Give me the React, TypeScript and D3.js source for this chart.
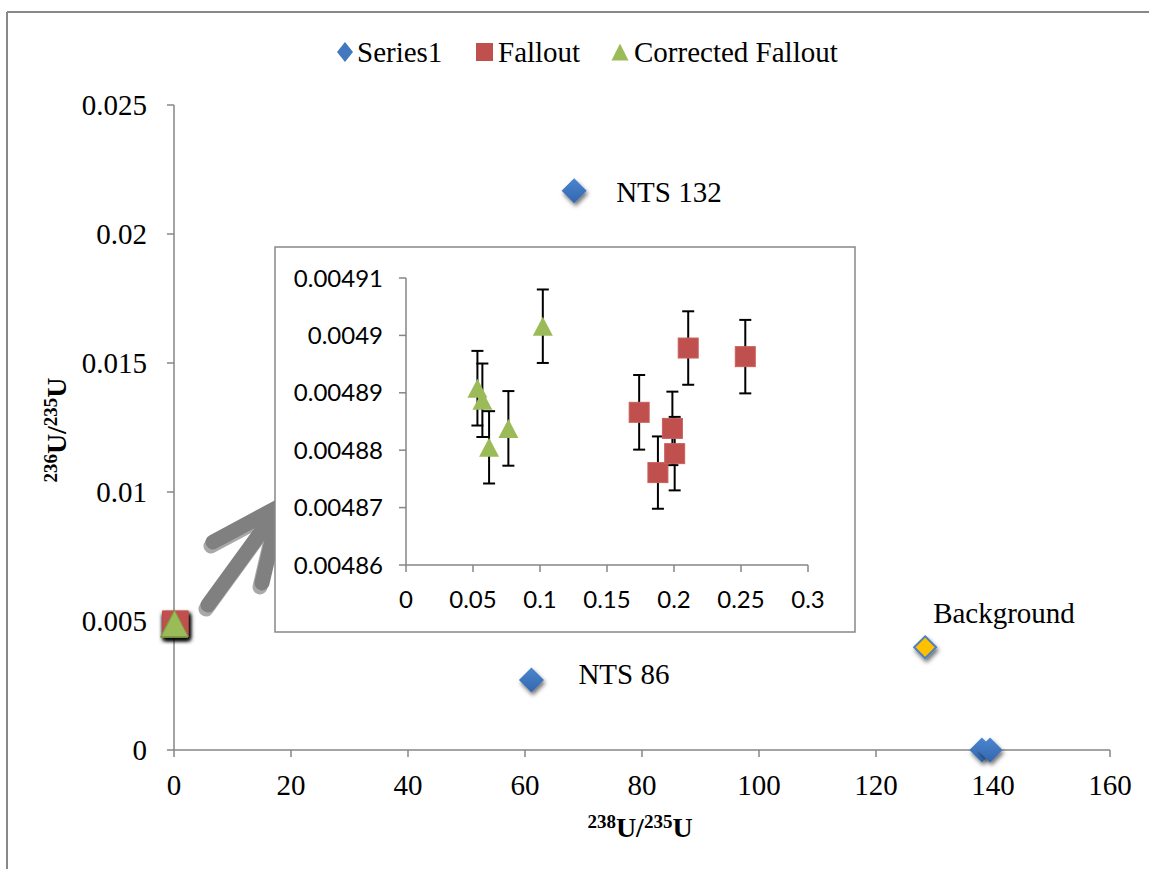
import * as d3 from 'd3';

// legend
const legendLabels = ['Series1', 'Fallout', 'Corrected Fallout'];

// main chart: Series1 (blue diamonds)
const series1X = [68.4, 61.1, 138.1, 139.5];
const series1Y = [0.02168, 0.00271, 0, 0];
const series1Labels = ['NTS 132', 'NTS 86', '', ''];

// background point (yellow diamond)
const backgroundX = [128.4];
const backgroundY = [0.00398];
const backgroundLabels = ['Background'];

// fallout (red squares)
const falloutX = [0.174, 0.188, 0.1988, 0.2005, 0.2106, 0.2532];
const falloutY = [0.0048866, 0.0048761, 0.0048838, 0.0048794, 0.0048978, 0.0048963];
const falloutErr = [0.0000065, 0.0000063, 0.0000064, 0.0000064, 0.0000064, 0.0000064];

// corrected fallout (green triangles)
const correctedX = [0.0533, 0.057, 0.062, 0.0764, 0.1021];
const correctedY = [0.0048908, 0.0048887, 0.0048805, 0.0048838, 0.0049016];
const correctedErr = [0.0000065, 0.0000064, 0.0000063, 0.0000065, 0.0000064];

// ticks
const mainXTicks = [0, 20, 40, 60, 80, 100, 120, 140, 160];
const mainYTicks = [0, 0.005, 0.01, 0.015, 0.02, 0.025];
const insetXTicks = [0, 0.05, 0.1, 0.15, 0.2, 0.25, 0.3];
const insetYTicks = [0.00486, 0.00487, 0.00488, 0.00489, 0.0049, 0.00491];

const W = 1149;
const H = 869;
const AXIS = '#868686';
const BLUE = '#4178BE';
const RED = '#C0504D';
const GREEN = '#9BBB59';
const SERIF = '"Liberation Serif", "Times New Roman", serif';
const SANS = 'Lato, "Liberation Sans", sans-serif';

const diamond = (cx: number, cy: number, rx: number, ry = rx) =>
  `M${cx},${cy - ry}L${cx + rx},${cy}L${cx},${cy + ry}L${cx - rx},${cy}Z`;
const triangle = (cx: number, cy: number, w: number, h: number) =>
  `M${cx},${cy - h / 2}L${cx + w / 2},${cy + h / 2}L${cx - w / 2},${cy + h / 2}Z`;

export default function App() {
  const x = d3.scaleLinear().domain([0, 160]).range([174, 1110]);
  const y = d3.scaleLinear().domain([0, 0.025]).range([750, 105]);
  const ix = d3.scaleLinear().domain([0, 0.3]).range([406, 808]);
  const iy = d3.scaleLinear().domain([0.00486, 0.00491]).range([565, 278]);

  const fmtMainY = (v: number) => (v === 0 ? '0' : String(+v.toFixed(3)));
  const fmtInset = (v: number) => String(+v.toFixed(5));

  const errBar = (cx: number, lo: number, hi: number, key: string) => (
    <g key={key}>
      <line x1={cx} x2={cx} y1={lo} y2={hi} />
      <line x1={cx - 6} x2={cx + 6} y1={lo} y2={lo} />
      <line x1={cx - 6} x2={cx + 6} y1={hi} y2={hi} />
    </g>
  );

  return (
    <svg width={W} height={H} style={{ position: 'absolute', left: 0, top: 0, background: '#fff' }}>
      <defs>
        <filter id="shadow" x="-50%" y="-50%" width="200%" height="200%">
          <feDropShadow dx="1.5" dy="3" stdDeviation="2" floodColor="#000" floodOpacity="0.55" />
        </filter>
        <filter id="arrowShadow" x="-20%" y="-20%" width="140%" height="140%">
          <feDropShadow dx="-2" dy="4" stdDeviation="0.5" floodColor="#a0a0a0" floodOpacity="0.9" />
        </filter>
        <linearGradient id="blueGrad" x1="0" y1="0" x2="0" y2="1">
          <stop offset="0" stopColor="#4A86CF" />
          <stop offset="1" stopColor="#3466AE" />
        </linearGradient>
      </defs>

      {/* outer frame */}
      <line x1={7} y1={12} x2={W} y2={12} stroke="#888" strokeWidth={2} />
      <line x1={7} y1={12} x2={7} y2={H} stroke="#888" strokeWidth={2} />

      {/* legend */}
      <g fontFamily={SERIF} fontSize={29} fill="#000">
        <path d={diamond(345, 52, 8, 10)} fill={BLUE} />
        <text x={357} y={62}>{legendLabels[0]}</text>
        <rect x={476} y={43} width={17} height={18} fill={RED} />
        <text x={498} y={62}>{legendLabels[1]}</text>
        <path d={triangle(620, 52, 17, 17)} fill={GREEN} />
        <text x={634} y={62}>{legendLabels[2]}</text>
      </g>

      {/* main axes */}
      <g stroke={AXIS} strokeWidth={1.5}>
        <line x1={x(0)} y1={y(0)} x2={x(160)} y2={y(0)} />
        <line x1={x(0)} y1={y(0)} x2={x(0)} y2={y(0.025)} />
        {mainXTicks.map((t) => (
          <line key={'xt' + t} x1={x(t)} x2={x(t)} y1={y(0)} y2={y(0) + 7} />
        ))}
        {mainYTicks.map((t) => (
          <line key={'yt' + t} x1={x(0) - 7} x2={x(0)} y1={y(t)} y2={y(t)} />
        ))}
      </g>
      <g fontFamily={SERIF} fontSize={29} fill="#000">
        {mainXTicks.map((t) => (
          <text key={'xl' + t} x={x(t)} y={795} textAnchor="middle">
            {t}
          </text>
        ))}
        {mainYTicks.map((t) => (
          <text key={'yl' + t} x={147} y={y(t) + 10} textAnchor="end">
            {fmtMainY(t)}
          </text>
        ))}
      </g>

      {/* axis titles */}
      <text x={640} y={837} textAnchor="middle" fontFamily={SERIF} fontWeight="bold" fontSize={28}>
        <tspan fontSize={19} dy={-9}>238</tspan>
        <tspan dy={9}>U/</tspan>
        <tspan fontSize={19} dy={-9}>235</tspan>
        <tspan dy={9}>U</tspan>
      </text>
      <text
        transform="translate(66,430) rotate(-90)"
        textAnchor="middle"
        fontFamily={SERIF}
        fontWeight="bold"
        fontSize={28}
      >
        <tspan fontSize={19} dy={-9}>236</tspan>
        <tspan dy={9}>U/</tspan>
        <tspan fontSize={19} dy={-9}>235</tspan>
        <tspan dy={9}>U</tspan>
      </text>

      {/* arrow pointing to inset */}
      <g
        stroke="#808080"
        strokeWidth={15}
        strokeLinecap="round"
        strokeLinejoin="round"
        fill="none"
        filter="url(#arrowShadow)"
      >
        <path d="M213,542L280,506L262,583" />
        <path d="M208,605L280,506" />
      </g>

      {/* main data: series1 */}
      {series1X.map((v, i) => (
        <path
          key={'s1' + i}
          d={diamond(x(v), y(series1Y[i]), 12.5)}
          fill="url(#blueGrad)"
          filter="url(#shadow)"
        />
      ))}
      {backgroundX.map((v, i) => (
        <path
          key={'bg' + i}
          d={diamond(x(v), y(backgroundY[i]), 11)}
          fill="#FFC000"
          stroke="#4F81BD"
          strokeWidth={2}
          filter="url(#shadow)"
        />
      ))}
      {falloutX.map((v, i) => (
        <rect
          key={'mf' + i}
          x={x(v) - 13}
          y={y(falloutY[i]) - 13}
          width={26}
          height={26}
          fill={RED}
          filter="url(#shadow)"
        />
      ))}
      {correctedX.map((v, i) => (
        <path
          key={'mc' + i}
          d={triangle(x(v), y(correctedY[i]), 27, 26)}
          fill={GREEN}
          stroke="#7E9A45"
          strokeWidth={1}
        />
      ))}
      <g fontFamily={SERIF} fontSize={29} fill="#000">
        {series1X.map((v, i) =>
          series1Labels[i] ? (
            <text key={'s1l' + i} x={x(v) + (i === 0 ? 42 : 47)} y={y(series1Y[i]) + (i === 0 ? 11 : 4)}>
              {series1Labels[i]}
            </text>
          ) : null,
        )}
        {backgroundX.map((v, i) => (
          <text key={'bgl' + i} x={x(v) + 8} y={y(backgroundY[i]) - 24}>
            {backgroundLabels[i]}
          </text>
        ))}
      </g>

      {/* inset */}
      <rect x={275} y={247} width={580} height={385} fill="#fff" stroke="#888" strokeWidth={1.5} />
      <g stroke={AXIS} strokeWidth={1.5}>
        <line x1={ix(0)} x2={ix(0.3)} y1={iy(0.00486)} y2={iy(0.00486)} />
        <line x1={ix(0)} x2={ix(0)} y1={iy(0.00486)} y2={iy(0.00491)} />
        {insetXTicks.map((t) => (
          <line key={'ixt' + t} x1={ix(t)} x2={ix(t)} y1={iy(0.00486)} y2={iy(0.00486) + 7} />
        ))}
        {insetYTicks.map((t) => (
          <line key={'iyt' + t} x1={ix(0) - 7} x2={ix(0)} y1={iy(t)} y2={iy(t)} />
        ))}
      </g>
      <g fontFamily={SANS} fontSize={24} fill="#000">
        {insetXTicks.map((t) => (
          <text key={'ixl' + t} x={ix(t)} y={608} textAnchor="middle">
            {String(t)}
          </text>
        ))}
        {insetYTicks.map((t) => (
          <text key={'iyl' + t} x={383} y={iy(t) + 8.5} textAnchor="end">
            {fmtInset(t)}
          </text>
        ))}
      </g>

      {/* error bars */}
      <g stroke="#000" strokeWidth={2}>
        {falloutX.map((v, i) =>
          errBar(ix(v), iy(falloutY[i] - falloutErr[i]), iy(falloutY[i] + falloutErr[i]), 'fe' + i),
        )}
        {correctedX.map((v, i) =>
          errBar(ix(v), iy(correctedY[i] - correctedErr[i]), iy(correctedY[i] + correctedErr[i]), 'ce' + i),
        )}
      </g>

      {/* inset markers */}
      {falloutX.map((v, i) => (
        <rect
          key={'if' + i}
          x={ix(v) - 10}
          y={iy(falloutY[i]) - 10}
          width={20}
          height={20}
          fill={RED}
          stroke="#C9605D"
          strokeWidth={1}
        />
      ))}
      {correctedX.map((v, i) => (
        <path key={'ic' + i} d={triangle(ix(v), iy(correctedY[i]), 20, 19)} fill={GREEN} />
      ))}
    </svg>
  );
}
